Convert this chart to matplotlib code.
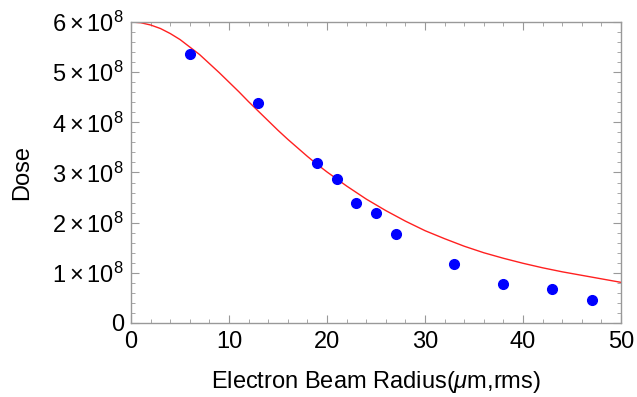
import matplotlib
matplotlib.use("Agg")
import matplotlib.pyplot as plt
from matplotlib.ticker import FuncFormatter, MultipleLocator

plt.rcParams['font.family'] = ['Liberation Sans', 'DejaVu Sans']
plt.rcParams['mathtext.fontset'] = 'custom'
plt.rcParams['mathtext.rm'] = 'Liberation Sans'
plt.rcParams['mathtext.it'] = 'Liberation Sans:italic'

# measured points
radius = [6, 13, 19, 21, 23, 25, 27, 33, 38, 43, 47]
dose = [5.36e8, 4.39e8, 3.18e8, 2.88e8, 2.39e8, 2.19e8, 1.77e8, 1.17e8, 0.77e8, 0.67e8, 0.46e8]

# fit curve
fit_r = [0, 1, 2, 3, 4, 5, 6, 7, 8, 9, 10, 11, 12, 13, 14, 15, 16, 17, 18, 19,
         20, 22, 24, 26, 28, 30, 32, 34, 36, 38, 40, 42, 44, 46, 48, 50]
fit_d = [6.00e8, 5.985e8, 5.94e8, 5.87e8, 5.77e8, 5.65e8, 5.50e8, 5.35e8, 5.17e8,
         4.99e8, 4.80e8, 4.61e8, 4.41e8, 4.22e8, 4.03e8, 3.84e8, 3.66e8, 3.49e8,
         3.32e8, 3.16e8, 3.01e8, 2.73e8, 2.47e8, 2.24e8, 2.03e8, 1.84e8, 1.68e8,
         1.53e8, 1.40e8, 1.29e8, 1.19e8, 1.10e8, 1.02e8, 0.95e8, 0.88e8, 0.81e8]

fig = plt.figure(figsize=(6.37, 3.97), dpi=100)
ax = fig.add_axes([0.2057, 0.1864, 0.975 - 0.2057, 0.9446 - 0.1864])

ax.plot(fit_r, fit_d, color='#ff2020', lw=1.0, zorder=2)
ax.plot(radius, dose, 'o', color='#0000ff', ms=7, zorder=3)

ax.set_xlim(0, 50)
ax.set_ylim(0, 6e8)
ax.xaxis.set_major_locator(MultipleLocator(10))
ax.xaxis.set_minor_locator(MultipleLocator(2))
ax.yaxis.set_major_locator(MultipleLocator(1e8))
ax.yaxis.set_minor_locator(MultipleLocator(0.2e8))


def yfmt(v, pos):
    n = int(round(v / 1e8))
    if n == 0:
        return "0"
    return r"$%d\times10^{8}$" % n


ax.yaxis.set_major_formatter(FuncFormatter(yfmt))

for s in ax.spines.values():
    s.set_color('#999999')
    s.set_linewidth(1.0)
ax.tick_params(which='both', direction='in', top=True, right=True,
               color='#999999', labelsize=17)
ax.tick_params(axis='x', pad=6)
ax.tick_params(axis='y', pad=5)
ax.tick_params(which='major', length=6)
ax.tick_params(which='minor', length=3)

ax.set_xlabel(r"Electron Beam Radius($\mu$m,rms)", fontsize=17, labelpad=11)
ax.set_ylabel("Dose", fontsize=17, labelpad=14)

fig.savefig("out.png", dpi=100)
